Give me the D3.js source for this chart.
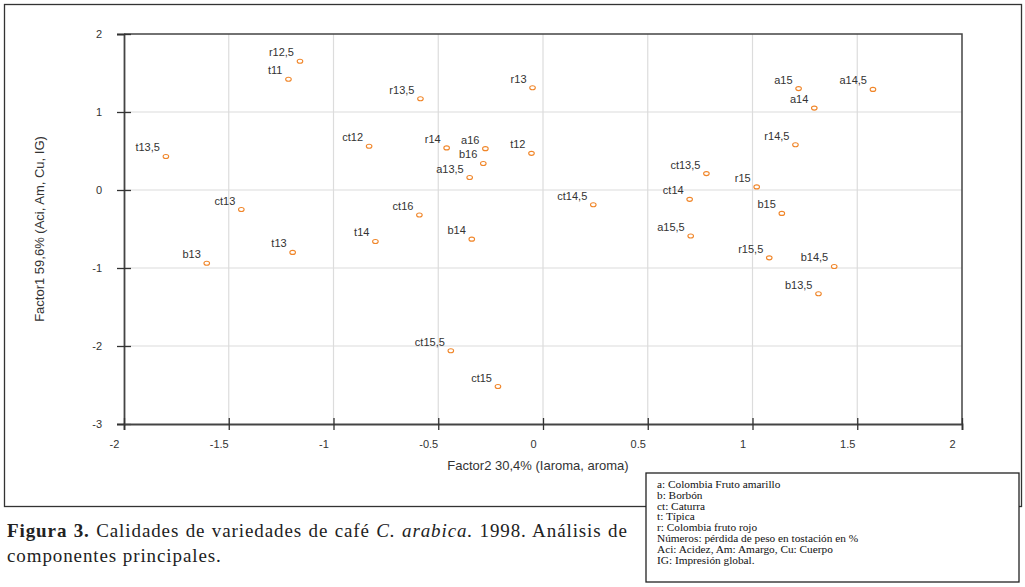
<!DOCTYPE html>
<html>
<head>
<meta charset="utf-8">
<script src="https://cdn.jsdelivr.net/npm/d3@7"></script>
<style>
  body { margin: 0; background: #fff; }
  svg { display: block; }
  .tick text { font-family: "Liberation Sans", Arial, sans-serif; font-size: 11px; fill: #333; }
</style>
</head>
<body>
<div class="chart"></div>
<script>
var svgWidth = 1025;
var svgHeight = 587;

// data: Factor2 (x), Factor1 (y)
var labels = ["r12,5", "t11", "t13,5", "ct13", "b13", "t13", "t14", "ct12", "r13,5", "ct16",
  "r14", "a16", "b16", "a13,5", "b14", "r13", "t12", "ct14,5", "ct15,5", "ct15",
  "a15", "a14", "a14,5", "r14,5", "ct13,5", "r15", "ct14", "b15", "a15,5", "r15,5", "b14,5", "b13,5"];
var factor2 = [-1.16, -1.215, -1.80, -1.44, -1.605, -1.195, -0.80, -0.83, -0.585, -0.59,
  -0.46, -0.275, -0.285, -0.35, -0.34, -0.05, -0.055, 0.24, -0.44, -0.215,
  1.22, 1.295, 1.575, 1.205, 0.78, 1.02, 0.70, 1.14, 0.705, 1.08, 1.39, 1.315];
var factor1 = [1.65, 1.42, 0.43, -0.25, -0.94, -0.8, -0.66, 0.56, 1.17, -0.32,
  0.54, 0.53, 0.34, 0.16, -0.63, 1.31, 0.47, -0.19, -2.06, -2.52,
  1.3, 1.05, 1.29, 0.58, 0.21, 0.04, -0.12, -0.3, -0.59, -0.87, -0.98, -1.33];

var xTicks = [-2, -1.5, -1, -0.5, 0, 0.5, 1, 1.5, 2];
var yTicks = [-3, -2, -1, 0, 1, 2];

var legendLines = ["a: Colombia Fruto amarillo", "b: Borbón", "ct: Caturra", "t: Típica",
  "r: Colombia fruto rojo", "Números: pérdida de peso en tostación en %",
  "Aci: Acidez, Am: Amargo, Cu: Cuerpo", "IG: Impresión global."];

var points = labels.map(function(d, i) {
  return { label: d, x: factor2[i], y: factor1[i] };
});

var svg = d3.select(".chart")
  .append("svg")
  .attr("width", svgWidth)
  .attr("height", svgHeight);

// outer frame
svg.append("rect")
  .attr("x", 4.5).attr("y", 4.5)
  .attr("width", 1017).attr("height", 502)
  .attr("fill", "none")
  .attr("stroke", "#333")
  .attr("stroke-width", 1.3);

var x = d3.scaleLinear().domain([-2, 2]).range([124, 962]);
var y = d3.scaleLinear().domain([-3, 2]).range([424, 34]);

// gridlines
svg.append("g").selectAll("line")
  .data(xTicks.slice(1, -1))
  .enter().append("line")
  .attr("x1", function(d) { return x(d); })
  .attr("x2", function(d) { return x(d); })
  .attr("y1", y(2)).attr("y2", y(-3))
  .attr("stroke", "#dcdcdc").attr("stroke-width", 1.2);

svg.append("g").selectAll("line")
  .data(yTicks.slice(1, -1))
  .enter().append("line")
  .attr("x1", x(-2)).attr("x2", x(2))
  .attr("y1", function(d) { return y(d); })
  .attr("y2", function(d) { return y(d); })
  .attr("stroke", "#dcdcdc").attr("stroke-width", 1.2);

// top and right border
svg.append("path")
  .attr("d", "M" + x(-2) + "," + y(2) + "H" + x(2) + "V" + y(-3))
  .attr("fill", "none")
  .attr("stroke", "#444")
  .attr("stroke-width", 1.5);

// axes (plain hyphen for negatives, as in the original)
var fmt = function(d) { return String(d); };

var leftAxis = d3.axisLeft(y).tickValues(yTicks).tickSize(7).tickFormat(fmt);
var gy = svg.append("g")
  .attr("transform", "translate(" + x(-2) + ",0)")
  .call(leftAxis);
gy.select(".domain").attr("stroke", "#444").attr("stroke-width", 1.8);
gy.selectAll(".tick line").attr("x1", 7).attr("stroke", "#333").attr("stroke-width", 1.3);
gy.selectAll(".tick text").attr("x", -22).attr("dy", "0.35em");

var bottomAxis = d3.axisBottom(x).tickValues(xTicks).tickSize(6).tickFormat(fmt);
var gx = svg.append("g")
  .attr("transform", "translate(0," + y(-3) + ")")
  .call(bottomAxis);
gx.select(".domain").attr("stroke", "#444").attr("stroke-width", 1.8);
gx.selectAll(".tick line").attr("y1", -6).attr("stroke", "#333").attr("stroke-width", 1.3);
gx.selectAll(".tick text").attr("y", 16).attr("dx", -10);

// axis titles
svg.append("text")
  .attr("x", 538).attr("y", 470)
  .attr("text-anchor", "middle")
  .style("font-family", "Liberation Sans, Arial, sans-serif")
  .style("font-size", "13px")
  .attr("fill", "#333")
  .text("Factor2 30,4% (Iaroma, aroma)");

svg.append("text")
  .attr("transform", "translate(44,229) rotate(-90)")
  .attr("text-anchor", "middle")
  .style("font-family", "Liberation Sans, Arial, sans-serif")
  .style("font-size", "13px")
  .attr("fill", "#333")
  .text("Factor1 59,6% (Aci, Am, Cu, IG)");

// points and labels
var pts = svg.append("g");
pts.selectAll("ellipse")
  .data(points)
  .enter().append("ellipse")
  .attr("cx", function(d) { return x(d.x); })
  .attr("cy", function(d) { return y(d.y); })
  .attr("rx", 2.8).attr("ry", 2)
  .attr("fill", "#fff")
  .attr("stroke", "#f0862a")
  .attr("stroke-width", 1.1);

pts.selectAll("text")
  .data(points)
  .enter().append("text")
  .attr("x", function(d) { return x(d.x) - 6; })
  .attr("y", function(d) { return y(d.y) - 5; })
  .attr("text-anchor", "end")
  .style("font-family", "Liberation Sans, Arial, sans-serif")
  .style("font-size", "11px")
  .attr("fill", "#333")
  .text(function(d) { return d.label; });

// legend box
svg.append("rect")
  .attr("x", 646).attr("y", 473)
  .attr("width", 373).attr("height", 109)
  .attr("fill", "#fff")
  .attr("stroke", "#222")
  .attr("stroke-width", 1.3);

svg.append("g").selectAll("text")
  .data(legendLines)
  .enter().append("text")
  .attr("x", 657)
  .attr("y", function(d, i) { return 488 + i * 10.8; })
  .style("font-family", "Liberation Serif, Times New Roman, serif")
  .style("font-size", "11.3px")
  .attr("fill", "#111")
  .text(function(d) { return d; });

// caption
var cap1 = svg.append("text")
  .attr("x", 7).attr("y", 537)
  .style("font-family", "Liberation Serif, Times New Roman, serif")
  .style("font-size", "19px")
  .style("letter-spacing", "0.9px")
  .attr("fill", "#222");
cap1.append("tspan").style("font-weight", "bold").text("Figura 3.");
cap1.append("tspan").text(" Calidades de variedades de café ");
cap1.append("tspan").style("font-style", "italic").text("C. arabica.");
cap1.append("tspan").text(" 1998. Análisis de");

// justify first line to the column width
var len = cap1.node().getComputedTextLength();
var extra = Math.max(0, (620 - len) / 10);
cap1.style("word-spacing", extra + "px");

svg.append("text")
  .attr("x", 7).attr("y", 562)
  .style("font-family", "Liberation Serif, Times New Roman, serif")
  .style("font-size", "19px")
  .style("letter-spacing", "0.9px")
  .attr("fill", "#222")
  .text("componentes principales.");
</script>
</body>
</html>
